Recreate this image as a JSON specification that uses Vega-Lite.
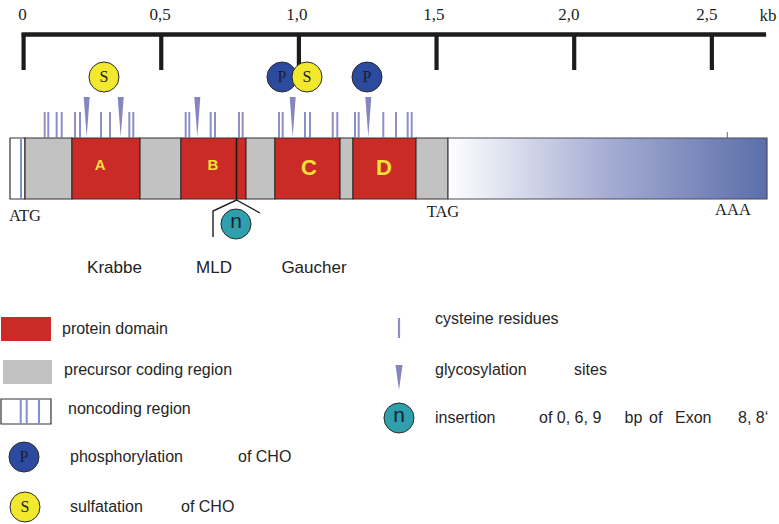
{
  "$schema": "https://vega.github.io/schema/vega-lite/v6.json",
  "width": 779,
  "height": 524,
  "autosize": {"type": "fit", "contains": "padding"},
  "padding": 0,
  "background": "white",
  "config": {"view": {"stroke": null}},
  "datasets": {
    "axisline": [{"start": -0.007, "end": 2.697}],
    "ticks": [{"x": 0}, {"x": 0.5}, {"x": 1.0}, {"x": 1.5}, {"x": 2.0}, {"x": 2.5}],
    "rulerText": [
      {"x": -0.004, "y": 15, "t": "0"},
      {"x": 0.4955, "y": 15, "t": "0,5"},
      {"x": 0.9931, "y": 15, "t": "1,0"},
      {"x": 1.4907, "y": 15, "t": "1,5"},
      {"x": 1.9811, "y": 15, "t": "2,0"},
      {"x": 2.4822, "y": 15, "t": "2,5"},
      {"x": 2.704, "y": 16, "t": "kb"}
    ],
    "siteText": [
      {"x": 0.0051, "y": 216, "t": "ATG"},
      {"x": 1.5234, "y": 212, "t": "TAG"},
      {"x": 2.5768, "y": 210, "t": "AAA"}
    ],
    "cys": [
      {"x": 0.0766}, {"x": 0.0897}, {"x": 0.1202}, {"x": 0.1384}, {"x": 0.1867}, {"x": 0.2049},
      {"x": 0.2811}, {"x": 0.3138}, {"x": 0.3839}, {"x": 0.3985}, {"x": 0.5888}, {"x": 0.6019},
      {"x": 0.6796}, {"x": 0.6952}, {"x": 0.7824}, {"x": 0.7958}, {"x": 0.9277}, {"x": 0.9412},
      {"x": 1.0222}, {"x": 1.0403}, {"x": 1.1228}, {"x": 1.1395}, {"x": 1.2038}, {"x": 1.2172},
      {"x": 1.3066}, {"x": 1.3527}, {"x": 1.3952}, {"x": 1.4097}
    ],
    "glyco": [{"x": 0.2292}, {"x": 0.3527}, {"x": 0.631}, {"x": 0.9775}, {"x": 1.2521}],
    "segments": [
      {"start": -0.0494, "end": 0.0051, "part": "noncoding"},
      {"start": 0.0051, "end": 0.1758, "part": "precursor"},
      {"start": 0.1758, "end": 0.4228, "part": "domain"},
      {"start": 0.4228, "end": 0.5717, "part": "precursor"},
      {"start": 0.5717, "end": 0.8078, "part": "domain"},
      {"start": 0.8078, "end": 0.9132, "part": "precursor"},
      {"start": 0.9132, "end": 1.1493, "part": "domain"},
      {"start": 1.1493, "end": 1.1965, "part": "precursor"},
      {"start": 1.1965, "end": 1.4253, "part": "domain"},
      {"start": 1.4253, "end": 1.5416, "part": "precursor"}
    ],
    "utr": [{"start": 1.5416, "end": 2.7003}],
    "ncLines": [
      {"x": -0.0094, "top": 138, "bottom": 199},
      {"x": -0.0105, "top": 399, "bottom": 424},
      {"x": 0.0113, "top": 399, "bottom": 424},
      {"x": 0.0559, "top": 399, "bottom": 424}
    ],
    "legendBoxes": [
      {"start": -0.0821, "end": 0.0995, "top": 317, "bottom": 341, "part": "domain"},
      {"start": -0.0748, "end": 0.1032, "top": 360, "bottom": 384, "part": "precursor"}
    ],
    "legendNc": [{"start": -0.0821, "end": 0.0995, "top": 399, "bottom": 424}],
    "smallTick": [{"x": 2.5561}],
    "legendCys": [{"x": 1.3636}],
    "insertLine": [{"x": 0.7733}],
    "roof": [
      {"x": 0.688, "y": 237, "o": 1},
      {"x": 0.688, "y": 211, "o": 2},
      {"x": 0.7733, "y": 200, "o": 3},
      {"x": 0.8587, "y": 213, "o": 4}
    ],
    "domainLabelsSmall": [{"x": 0.2779, "y": 165, "t": "A"}, {"x": 0.688, "y": 165, "t": "B"}],
    "domainLabelsBig": [{"x": 1.0367, "y": 168, "t": "C"}, {"x": 1.3091, "y": 168, "t": "D"}],
    "mods": [
      {"x": 0.292, "y": 77, "kind": "S"},
      {"x": 0.9386, "y": 77, "kind": "P"},
      {"x": 1.0294, "y": 77, "kind": "S"},
      {"x": 1.2474, "y": 77, "kind": "P"},
      {"x": 0.7715, "y": 224, "kind": "n"},
      {"x": 0.0015, "y": 457, "kind": "P"},
      {"x": 0.0051, "y": 507, "kind": "S"},
      {"x": 1.3636, "y": 418, "kind": "n"}
    ],
    "diseases": [
      {"x": 0.3302, "y": 268, "t": "Krabbe"},
      {"x": 0.6916, "y": 268, "t": "MLD"},
      {"x": 1.0548, "y": 268, "t": "Gaucher"}
    ],
    "legendText": [
      {"x": 0.1395, "y": 329, "t": "protein domain"},
      {"x": 0.1467, "y": 370, "t": "precursor coding region"},
      {"x": 0.1613, "y": 409, "t": "noncoding region"},
      {"x": 0.1685, "y": 457, "t": "phosphorylation"},
      {"x": 0.7788, "y": 457, "t": "of CHO"},
      {"x": 0.1685, "y": 507, "t": "sulfatation"},
      {"x": 0.5717, "y": 507, "t": "of CHO"},
      {"x": 1.4944, "y": 319, "t": "cysteine residues"},
      {"x": 1.4944, "y": 370, "t": "glycosylation"},
      {"x": 1.9993, "y": 370, "t": "sites"},
      {"x": 1.4944, "y": 418, "t": "insertion"},
      {"x": 1.8722, "y": 418, "t": "of 0, 6, 9"},
      {"x": 2.183, "y": 418, "t": "bp"},
      {"x": 2.272, "y": 418, "t": "of"},
      {"x": 2.3662, "y": 418, "t": "Exon"},
      {"x": 2.595, "y": 418, "t": "8, 8‘"}
    ]
  },
  "layer": [
    {
      "data": {"name": "axisline"},
      "mark": {"type": "rule", "color": "#1c1c1c", "strokeWidth": 4.5},
      "encoding": {
        "x": {"field": "start", "type": "quantitative", "scale": {"domain": [-0.0857, 2.7439], "nice": false, "zero": false}, "axis": null},
        "x2": {"field": "end"},
        "y": {"datum": 34.5, "type": "quantitative", "scale": {"domain": [524, 0], "nice": false, "zero": false}, "axis": null}
      }
    },
    {
      "data": {"name": "ticks"},
      "mark": {"type": "rule", "color": "#1c1c1c", "strokeWidth": 4.2},
      "encoding": {
        "x": {"field": "x", "type": "quantitative", "axis": null},
        "y": {"datum": 33, "type": "quantitative", "axis": null},
        "y2": {"datum": 70}
      }
    },
    {
      "data": {"name": "rulerText"},
      "mark": {"type": "text", "font": "Liberation Serif", "fontSize": 17, "color": "#1e1e1e", "align": "center", "baseline": "middle"},
      "encoding": {
        "x": {"field": "x", "type": "quantitative", "axis": null},
        "y": {"field": "y", "type": "quantitative", "axis": null},
        "text": {"field": "t"}
      }
    },
    {
      "data": {"name": "siteText"},
      "mark": {"type": "text", "font": "Liberation Serif", "fontSize": 16.5, "color": "#1e1e1e", "align": "center", "baseline": "middle"},
      "encoding": {
        "x": {"field": "x", "type": "quantitative", "axis": null},
        "y": {"field": "y", "type": "quantitative", "axis": null},
        "text": {"field": "t"}
      }
    },
    {
      "data": {"name": "cys"},
      "mark": {"type": "rule", "color": "#8e8ec8", "strokeWidth": 2},
      "encoding": {
        "x": {"field": "x", "type": "quantitative", "axis": null},
        "y": {"datum": 112, "type": "quantitative", "axis": null},
        "y2": {"datum": 137.5}
      }
    },
    {
      "data": {"name": "glyco"},
      "mark": {"type": "point", "shape": "M-0.15,-1L0.15,-1L0,1Z", "filled": true, "size": 1600, "color": "#8585c2", "opacity": 1, "strokeWidth": 0},
      "encoding": {
        "x": {"field": "x", "type": "quantitative", "axis": null},
        "y": {"datum": 117, "type": "quantitative", "axis": null}
      }
    },
    {
      "data": {"name": "segments"},
      "mark": {"type": "rect", "stroke": "#3a2e2e", "strokeWidth": 1.2},
      "encoding": {
        "x": {"field": "start", "type": "quantitative", "axis": null},
        "x2": {"field": "end"},
        "y": {"datum": 138, "type": "quantitative", "axis": null},
        "y2": {"datum": 199},
        "color": {"field": "part", "type": "nominal", "scale": {"domain": ["domain", "precursor", "noncoding"], "range": ["#cb2b27", "#c2c2c2", "#ffffff"]}, "legend": null}
      }
    },
    {
      "data": {"name": "utr"},
      "mark": {"type": "rect", "stroke": "#4a4a58", "strokeWidth": 1.2, "fill": {"x1": 0, "y1": 0, "x2": 1, "y2": 0, "gradient": "linear", "stops": [{"offset": 0, "color": "#ffffff"}, {"offset": 0.5, "color": "#a5add3"}, {"offset": 1, "color": "#5b6ea9"}]}},
      "encoding": {
        "x": {"field": "start", "type": "quantitative", "axis": null},
        "x2": {"field": "end"},
        "y": {"datum": 138, "type": "quantitative", "axis": null},
        "y2": {"datum": 199}
      }
    },
    {
      "data": {"name": "smallTick"},
      "mark": {"type": "rule", "color": "#5d6a9a", "strokeWidth": 1},
      "encoding": {
        "x": {"field": "x", "type": "quantitative", "axis": null},
        "y": {"datum": 132, "type": "quantitative", "axis": null},
        "y2": {"datum": 138}
      }
    },
    {
      "data": {"name": "legendBoxes"},
      "mark": {"type": "rect"},
      "encoding": {
        "x": {"field": "start", "type": "quantitative", "axis": null},
        "x2": {"field": "end"},
        "y": {"field": "top", "type": "quantitative", "axis": null},
        "y2": {"field": "bottom"},
        "color": {"field": "part", "type": "nominal", "legend": null}
      }
    },
    {
      "data": {"name": "legendNc"},
      "mark": {"type": "rect", "fill": "#ffffff", "stroke": "#333333", "strokeWidth": 1.2},
      "encoding": {
        "x": {"field": "start", "type": "quantitative", "axis": null},
        "x2": {"field": "end"},
        "y": {"field": "top", "type": "quantitative", "axis": null},
        "y2": {"field": "bottom"}
      }
    },
    {
      "data": {"name": "ncLines"},
      "mark": {"type": "rule", "color": "#7f90cc", "strokeWidth": 2},
      "encoding": {
        "x": {"field": "x", "type": "quantitative", "axis": null},
        "y": {"field": "top", "type": "quantitative", "axis": null},
        "y2": {"field": "bottom"}
      }
    },
    {
      "data": {"name": "insertLine"},
      "mark": {"type": "rule", "color": "#1a1a1a", "strokeWidth": 1.6},
      "encoding": {
        "x": {"field": "x", "type": "quantitative", "axis": null},
        "y": {"datum": 138, "type": "quantitative", "axis": null},
        "y2": {"datum": 200}
      }
    },
    {
      "data": {"name": "roof"},
      "mark": {"type": "line", "color": "#1f1f1f", "strokeWidth": 1.4},
      "encoding": {
        "x": {"field": "x", "type": "quantitative", "axis": null},
        "y": {"field": "y", "type": "quantitative", "axis": null},
        "order": {"field": "o"}
      }
    },
    {
      "data": {"name": "domainLabelsSmall"},
      "mark": {"type": "text", "font": "Liberation Sans", "fontWeight": "bold", "fontSize": 15, "color": "#f6e03a", "align": "center", "baseline": "middle"},
      "encoding": {
        "x": {"field": "x", "type": "quantitative", "axis": null},
        "y": {"field": "y", "type": "quantitative", "axis": null},
        "text": {"field": "t"}
      }
    },
    {
      "data": {"name": "domainLabelsBig"},
      "mark": {"type": "text", "font": "Liberation Sans", "fontWeight": "bold", "fontSize": 22, "color": "#f6e03a", "align": "center", "baseline": "middle"},
      "encoding": {
        "x": {"field": "x", "type": "quantitative", "axis": null},
        "y": {"field": "y", "type": "quantitative", "axis": null},
        "text": {"field": "t"}
      }
    },
    {
      "data": {"name": "legendCys"},
      "mark": {"type": "rule", "color": "#8e8ec8", "strokeWidth": 2.2},
      "encoding": {
        "x": {"field": "x", "type": "quantitative", "axis": null},
        "y": {"datum": 318, "type": "quantitative", "axis": null},
        "y2": {"datum": 338}
      }
    },
    {
      "data": {"name": "legendCys"},
      "mark": {"type": "point", "shape": "M-0.28,-1L0.28,-1L0,1Z", "filled": true, "size": 625, "color": "#8585c2", "opacity": 1, "strokeWidth": 0},
      "encoding": {
        "x": {"field": "x", "type": "quantitative", "axis": null},
        "y": {"datum": 377.5, "type": "quantitative", "axis": null}
      }
    },
    {
      "data": {"name": "mods"},
      "mark": {"type": "point", "shape": "circle", "filled": true, "size": 900, "stroke": "#2a2a2a", "strokeWidth": 1, "opacity": 1},
      "encoding": {
        "x": {"field": "x", "type": "quantitative", "axis": null},
        "y": {"field": "y", "type": "quantitative", "axis": null},
        "fill": {"field": "kind", "type": "nominal", "scale": {"domain": ["P", "S", "n"], "range": ["#2d4b9e", "#f2e92e", "#2f9fae"]}, "legend": null}
      }
    },
    {
      "data": {"name": "mods"},
      "transform": [{"filter": "datum.kind != 'n'"}],
      "mark": {"type": "text", "font": "Liberation Serif", "fontSize": 16, "color": "#1c1c30", "align": "center", "baseline": "middle"},
      "encoding": {
        "x": {"field": "x", "type": "quantitative", "axis": null},
        "y": {"field": "y", "type": "quantitative", "axis": null},
        "text": {"field": "kind"}
      }
    },
    {
      "data": {"name": "mods"},
      "transform": [{"filter": "datum.kind == 'n'"}],
      "mark": {"type": "text", "font": "Liberation Sans", "fontSize": 21, "color": "#15232e", "align": "center", "baseline": "middle", "dy": -2},
      "encoding": {
        "x": {"field": "x", "type": "quantitative", "axis": null},
        "y": {"field": "y", "type": "quantitative", "axis": null},
        "text": {"field": "kind"}
      }
    },
    {
      "data": {"name": "diseases"},
      "mark": {"type": "text", "font": "Liberation Sans", "fontSize": 17, "color": "#222222", "align": "center", "baseline": "middle"},
      "encoding": {
        "x": {"field": "x", "type": "quantitative", "axis": null},
        "y": {"field": "y", "type": "quantitative", "axis": null},
        "text": {"field": "t"}
      }
    },
    {
      "data": {"name": "legendText"},
      "mark": {"type": "text", "font": "Liberation Sans", "fontSize": 16, "color": "#262626", "align": "left", "baseline": "middle"},
      "encoding": {
        "x": {"field": "x", "type": "quantitative", "axis": null},
        "y": {"field": "y", "type": "quantitative", "axis": null},
        "text": {"field": "t"}
      }
    }
  ]
}
